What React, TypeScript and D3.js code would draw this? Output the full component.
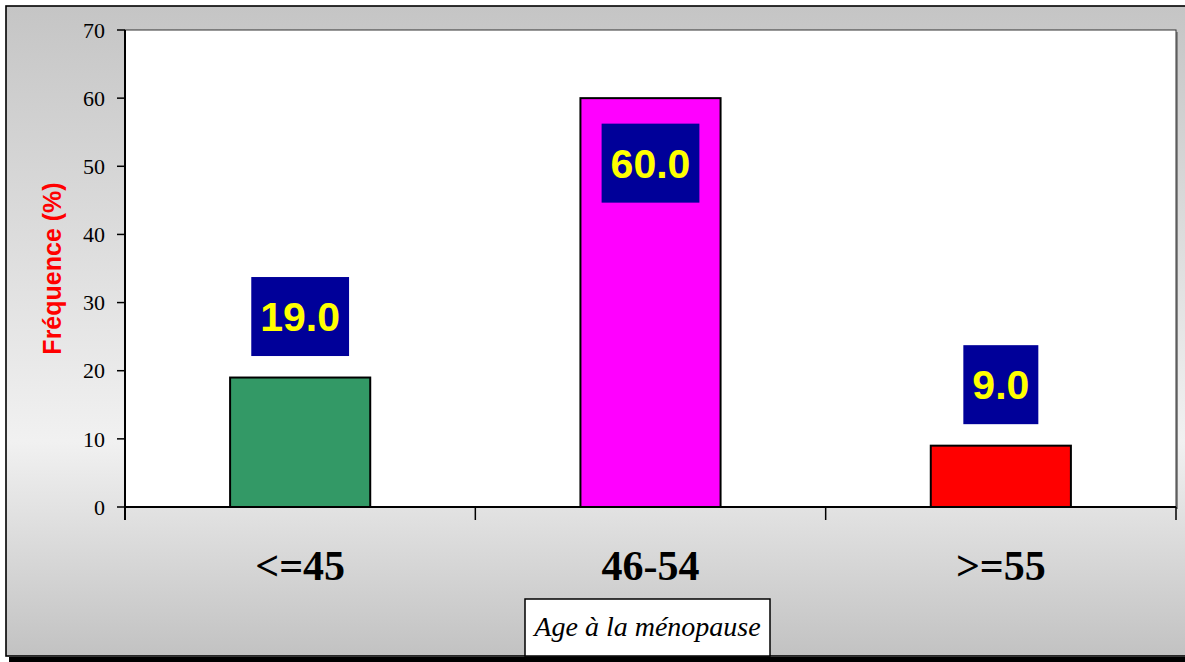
import React from "react";
import * as d3 from "d3";

const categories = ["<=45", "46-54", ">=55"];
const values = [19.0, 60.0, 9.0];
const barColors = ["#339966", "#FF00FF", "#FF0000"];
const yTicks = [0, 10, 20, 30, 40, 50, 60, 70];
const yTitle = "Fréquence (%)";
const xTitle = "Age à la ménopause";

const W = 1185;
const H = 662;
const plot = { left: 125, right: 1176, top: 30, bottom: 507 };

function estWidth(s: string, size: number) {
  let w = 0;
  for (const c of s) w += c === "." ? 0.278 : 0.556;
  return w * size;
}

export default function App() {
  const x = d3
    .scaleBand<string>()
    .domain(categories)
    .range([plot.left, plot.right])
    .paddingInner(0.6)
    .paddingOuter(0.3);
  const y = d3.scaleLinear().domain([0, 70]).range([plot.bottom, plot.top]);
  const step = x.step();
  const boundaries = d3.range(categories.length + 1).map((i) => plot.left + i * step);

  const labelSize = 41;
  const boxH = 79;

  return (
    <svg
      width={W}
      height={H}
      style={{ position: "fixed", left: 0, top: 0, display: "block" }}
    >
      <defs>
        <linearGradient id="bg" x1="0" y1="0" x2="0" y2="1">
          <stop offset="0" stopColor="#c5c5c5" />
          <stop offset="0.67" stopColor="#f1f1f1" />
          <stop offset="1" stopColor="#c2c2c2" />
        </linearGradient>
      </defs>
      <rect x={0} y={0} width={W} height={H} fill="#ffffff" />
      <rect x={6} y={6} width={W + 10} height={650} fill="url(#bg)" stroke="#000" strokeWidth={1.6} />
      <rect x={9} y={657} width={W} height={6} fill="#000" />

      {/* plot area */}
      <rect x={plot.right} y={plot.top + 2} width={2} height={plot.bottom - plot.top} fill="#888" />
      <rect
        x={plot.left}
        y={plot.top}
        width={plot.right - plot.left}
        height={plot.bottom - plot.top}
        fill="#fff"
        stroke="#333"
        strokeWidth={1}
      />

      {/* bars */}
      {values.map((v, i) => (
        <rect
          key={"b" + i}
          x={x(categories[i])!}
          y={y(v)}
          width={x.bandwidth()}
          height={y(0) - y(v)}
          fill={barColors[i]}
          stroke="#000"
          strokeWidth={2}
        />
      ))}

      {/* axes */}
      <line x1={plot.left} x2={plot.left} y1={plot.top} y2={plot.bottom + 13} stroke="#000" strokeWidth={2} />
      <line x1={plot.left} x2={plot.right} y1={plot.bottom} y2={plot.bottom} stroke="#000" strokeWidth={2} />
      {yTicks.map((t) => (
        <g key={"yt" + t}>
          <line x1={plot.left - 8} x2={plot.left} y1={y(t)} y2={y(t)} stroke="#000" strokeWidth={1.5} />
          <text
            x={105}
            y={y(t)}
            dy="0.35em"
            textAnchor="end"
            fontFamily="'Liberation Serif', 'Times New Roman', serif"
            fontSize={22}
            fill="#000"
          >
            {t}
          </text>
        </g>
      ))}
      {boundaries.map((bx, i) => (
        <line key={"xt" + i} x1={bx} x2={bx} y1={plot.bottom} y2={plot.bottom + 13} stroke="#000" strokeWidth={1.5} />
      ))}
      {categories.map((c) => (
        <text
          key={"xl" + c}
          x={x(c)! + x.bandwidth() / 2}
          y={580}
          textAnchor="middle"
          fontFamily="'Liberation Serif', 'Times New Roman', serif"
          fontWeight="bold"
          fontSize={42}
          fill="#000"
        >
          {c}
        </text>
      ))}

      {/* y title */}
      <text
        transform={`translate(61, ${(plot.top + plot.bottom) / 2}) rotate(-90)`}
        textAnchor="middle"
        fontFamily="'Liberation Sans', Arial, sans-serif"
        fontWeight="bold"
        fontSize={25}
        fill="#FF0000"
      >
        {yTitle}
      </text>

      {/* x title box */}
      <rect x={525} y={599} width={245} height={57} fill="#fff" stroke="#000" strokeWidth={1.5} />
      <text
        x={647.5}
        y={636}
        textAnchor="middle"
        fontFamily="'Liberation Serif', 'Times New Roman', serif"
        fontStyle="italic"
        fontSize={28}
        fill="#000"
      >
        {xTitle}
      </text>

      {/* value labels */}
      {values.map((v, i) => {
        const label = v.toFixed(1);
        const bw = estWidth(label, labelSize) + 18;
        const cx = x(categories[i])! + x.bandwidth() / 2;
        let cy = y(v) - 61;
        if (cy - boxH / 2 < plot.top) cy = y(v) + 65;
        return (
          <g key={"l" + i}>
            <rect x={cx - bw / 2} y={cy - boxH / 2} width={bw} height={boxH} fill="#000099" />
            <text
              x={cx}
              y={cy}
              dy="0.36em"
              textAnchor="middle"
              fontFamily="'Liberation Sans', Arial, sans-serif"
              fontWeight="bold"
              fontSize={labelSize}
              fill="#FFFF00"
            >
              {label}
            </text>
          </g>
        );
      })}
    </svg>
  );
}
